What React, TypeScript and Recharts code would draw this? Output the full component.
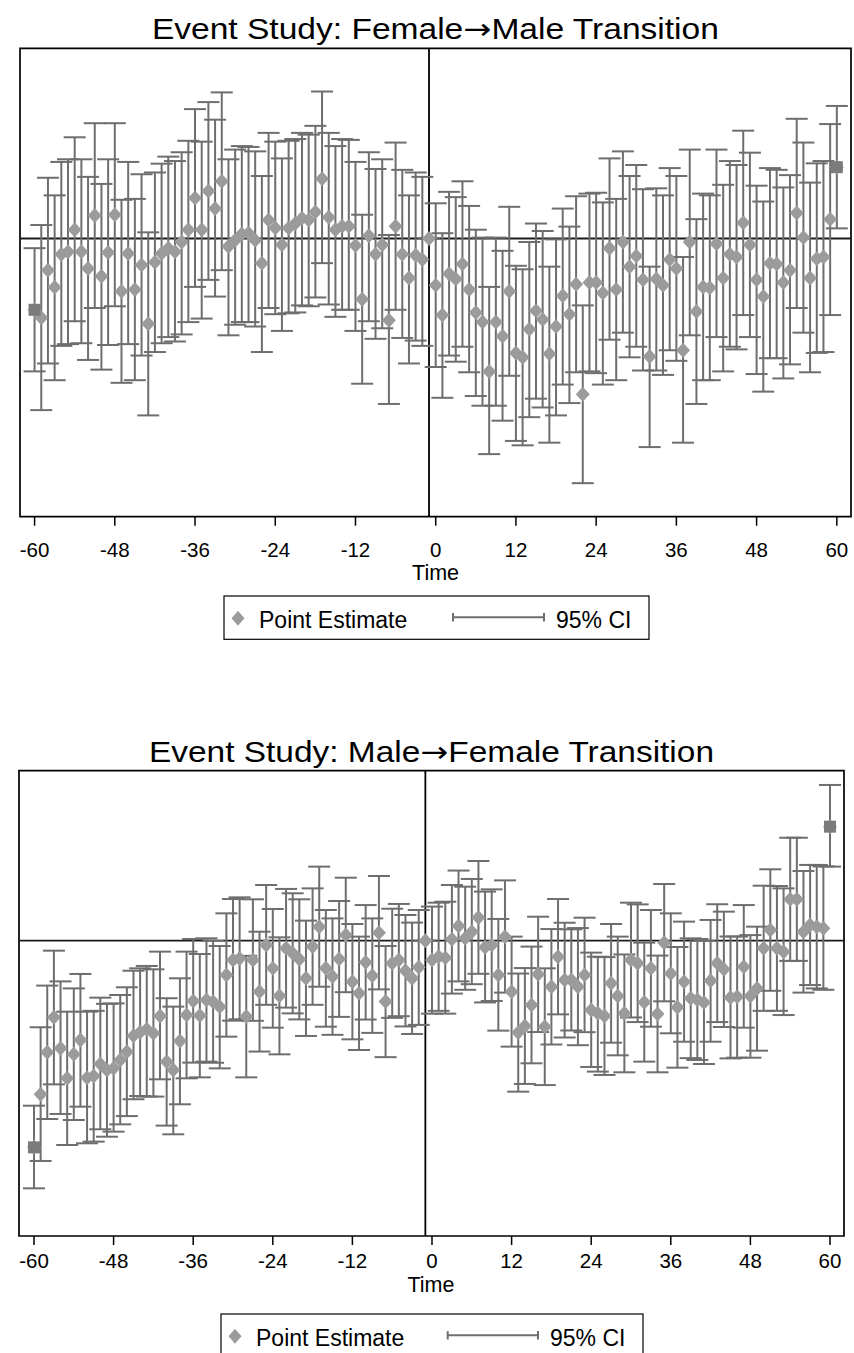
import React from 'react';
import {
  ComposedChart,
  Scatter,
  XAxis,
  YAxis,
  ErrorBar,
  ReferenceLine,
  ReferenceArea,
  Customized,
} from 'recharts';

// ---------- categories / ticks ----------
const periods: number[] = Array.from({ length: 121 }, (_, i) => i - 60);
const xTicks = [-60, -48, -36, -24, -12, 0, 12, 24, 36, 48, 60];
const fmYTicks = [-3, -2, -1, 0, 1, 2];
const mfYTicks = [-2, -1, 0, 1];

// ---------- Female -> Male (t = -60 .. 60) ----------
const fmEst = [
  -0.81, -0.9, -0.36, -0.555, -0.18, -0.15, 0.1, -0.15, -0.34, 0.26,
  -0.43, -0.16, 0.27, -0.6, -0.17, -0.58, -0.3, -0.97, -0.27, -0.17,
  -0.11, -0.15, -0.04, 0.1, 0.46, 0.1, 0.54, 0.34, 0.65, -0.09,
  -0.02, 0.05, 0.06, -0.02, -0.28, 0.21, 0.12, -0.07, 0.12, 0.17,
  0.23, 0.21, 0.3, 0.68, 0.24, 0.1, 0.14, 0.14, -0.08, -0.69,
  0.03, -0.18, -0.07, -0.93, 0.14, -0.18, -0.45, -0.19, -0.24, 0,
  -0.53, -0.87, -0.4, -0.46, -0.29, -0.58, -0.84, -0.95, -1.51, -0.95,
  -1.11, -0.6, -1.3, -1.35, -1.03, -0.82, -0.92, -1.31, -1.0, -0.65,
  -0.86, -0.52, -1.77, -0.5, -0.5, -0.62, -0.11, -0.58, -0.04, -0.32,
  -0.2, -0.47, -1.34, -0.46, -0.53, -0.24, -0.34, -1.27, -0.04, -0.83,
  -0.55, -0.56, -0.06, -0.45, -0.18, -0.21, 0.18, -0.07, -0.47, -0.66,
  -0.28, -0.29, -0.5, -0.36, 0.29, 0.01, -0.45, -0.23, -0.21, 0.22,
  0.81,
];
const fmHi = [
  -0.11, 0.153, 0.69, 0.49, 0.87, 0.9, 1.15, 0.9, 0.7, 1.31,
  0.62, 0.9, 1.31, 0.44, 0.87, 0.45, 0.73, 0.07, 0.75, 0.85,
  0.93, 0.88, 0.98, 1.11, 1.47, 1.1, 1.55, 1.35, 1.66, 0.9,
  1.01, 1.05, 1.04, 0.99, 0.71, 1.2, 1.1, 0.91, 1.11, 1.13,
  1.2, 1.18, 1.28, 1.67, 1.2, 1.05, 1.13, 1.12, 0.87, 0.27,
  0.98, 0.79, 0.9, 0.04, 1.09, 0.78, 0.49, 0.75, 0.7, 0,
  0.4, 0.06, 0.53, 0.47, 0.65, 0.37, 0.1, 0.01, -0.55, 0.01,
  -0.14, 0.36, -0.31, -0.35, -0.04, 0.17, 0.085, -0.32, -0.01, 0.34,
  0.135, 0.48, -0.76, 0.51, 0.52, 0.41, 0.91, 0.45, 0.99, 0.71,
  0.835, 0.56, -0.32, 0.57, 0.49, 0.8, 0.71, -0.21, 1.01, 0.22,
  0.51, 0.49, 1.01, 0.61, 0.88, 0.835, 1.225, 0.975, 0.6, 0.42,
  0.8, 0.78, 0.58, 0.72, 1.36, 1.09, 0.635, 0.854, 0.88, 1.3,
  1.506,
];
const fmLo = [
  -1.51, -1.95, -1.42, -1.61, -1.22, -1.2, -0.94, -1.19, -1.38, -0.79,
  -1.49, -1.21, -0.77, -1.64, -1.2, -1.61, -1.33, -2.01, -1.29, -1.19,
  -1.12, -1.17, -1.09, -0.95, -0.55, -0.91, -0.47, -0.66, -0.36, -1.1,
  -0.98, -0.95, -0.95, -1.0, -1.29, -0.79, -0.86, -1.05, -0.85, -0.84,
  -0.76, -0.77, -0.67, -0.28, -0.75, -0.89, -0.81, -0.81, -1.05, -1.65,
  -0.94, -1.14, -1.02, -1.88, -0.81, -1.13, -1.42, -1.16, -1.22, 0,
  -1.46, -1.81, -1.33, -1.4, -1.23, -1.52, -1.79, -1.9, -2.45, -1.9,
  -2.07, -1.56, -2.3, -2.35, -2.03, -1.82, -1.92, -2.32, -2.01, -1.66,
  -1.87, -1.52, -2.78, -1.51, -1.53, -1.66, -1.15, -1.61, -1.07, -1.35,
  -1.23, -1.5, -2.37, -1.5, -1.55, -1.27, -1.39, -2.32, -1.1, -1.88,
  -1.61, -1.61, -1.12, -1.51, -1.23, -1.26, -0.87, -1.12, -1.54, -1.74,
  -1.36, -1.36, -1.59, -1.43, -0.79, -1.07, -1.52, -1.3, -1.29, -0.87,
  0.115,
];

// ---------- Male -> Female (t = -60 .. 60) ----------
const mfEst = [
  -1.473, -1.095, -0.795, -0.546, -0.767, -0.981, -0.81, -0.708, -0.976, -0.964,
  -0.879, -0.921, -0.909, -0.85, -0.791, -0.677, -0.653, -0.632, -0.66, -0.537,
  -0.862, -0.921, -0.715, -0.53, -0.43, -0.534, -0.423, -0.435, -0.47, -0.244,
  -0.138, -0.126, -0.541, -0.138, -0.363, -0.03, -0.197, -0.392, -0.054, -0.09,
  -0.133, -0.268, -0.042, 0.1, -0.197, -0.256, -0.13, 0.041, -0.292, -0.375,
  -0.154, -0.249, 0.057, -0.434, -0.161, -0.138, -0.214, -0.268, -0.19, 0,
  -0.138, -0.114, -0.121, 0.01, 0.105, 0.017, 0.064, 0.166, -0.047, -0.03,
  -0.244, 0.029, -0.363, -0.655, -0.608, -0.458, -0.24, -0.613, -0.328, -0.114,
  -0.28, -0.28, -0.328, -0.244, -0.494, -0.518, -0.537, -0.304, -0.394, -0.518,
  -0.138, -0.161, -0.438, -0.197, -0.522, -0.014, -0.233, -0.475, -0.292, -0.41,
  -0.42, -0.44, -0.285, -0.161, -0.204, -0.405, -0.4, -0.185, -0.395, -0.34,
  -0.054, 0.076, -0.054, -0.078, 0.295, 0.295, 0.064, 0.112, 0.1, 0.088,
  0.813,
];
const mfHi = [
  -1.176, -0.617, -0.32, -0.071, -0.29, -0.506, -0.34, -0.237, -0.506, -0.5,
  -0.406, -0.45, -0.447, -0.387, -0.332, -0.214, -0.197, -0.18, -0.204, -0.078,
  -0.41, -0.47, -0.268, -0.078, 0.012, -0.095, 0.017, 0.0, -0.038, 0.195,
  0.297, 0.309, -0.108, 0.295, 0.064, 0.397, 0.226, 0.024, 0.369, 0.338,
  0.295, 0.143, 0.373, 0.528, 0.219, 0.159, 0.283, 0.449, 0.119, 0.029,
  0.254, 0.159, 0.461, -0.038, 0.228, 0.262, 0.183, 0.129, 0.219, 0,
  0.243, 0.271, 0.278, 0.397, 0.5, 0.385, 0.44, 0.568, 0.35, 0.366,
  0.155, 0.43, 0.029, -0.234, -0.195, -0.042, 0.171, -0.197, 0.083, 0.297,
  0.128, 0.081, 0.09, 0.164, -0.085, -0.114, -0.117, 0.119, 0.029, -0.098,
  0.271, 0.259, -0.014, 0.219, -0.106, 0.404, 0.195, -0.045, 0.136, 0.017,
  0.012, 0.0, 0.148, 0.26, 0.207, 0.03, 0.03, 0.254, 0.04, 0.1,
  0.392, 0.509, 0.39, 0.373, 0.734, 0.734, 0.497, 0.54, 0.54, 0.53,
  1.11,
];
const mfLo = [
  -1.765, -1.57, -1.271, -1.024, -1.235, -1.456, -1.278, -1.183, -1.444, -1.432,
  -1.344, -1.397, -1.361, -1.309, -1.25, -1.13, -1.107, -1.111, -1.111, -0.988,
  -1.318, -1.38, -1.166, -0.981, -0.869, -0.974, -0.862, -0.87, -0.91, -0.684,
  -0.57, -0.56, -0.974, -0.571, -0.79, -0.457, -0.62, -0.81, -0.477, -0.518,
  -0.561, -0.679, -0.457, -0.328, -0.613, -0.671, -0.543, -0.367, -0.703, -0.779,
  -0.562, -0.657, -0.347, -0.83, -0.55, -0.538, -0.611, -0.665, -0.6, 0,
  -0.52, -0.5, -0.52, -0.377, -0.29, -0.35, -0.31, -0.236, -0.44, -0.43,
  -0.641, -0.37, -0.755, -1.076, -1.021, -0.874, -0.651, -1.029, -0.74, -0.525,
  -0.69, -0.64, -0.745, -0.652, -0.9, -0.933, -0.957, -0.727, -0.817, -0.938,
  -0.547, -0.58, -0.862, -0.613, -0.938, -0.432, -0.66, -0.905, -0.72, -0.837,
  -0.85, -0.879, -0.72, -0.58, -0.615, -0.839, -0.834, -0.62, -0.834, -0.784,
  -0.5, -0.357, -0.5, -0.53, -0.144, -0.144, -0.37, -0.316, -0.34, -0.35,
  0.528,
];

const endpointPeriods = [-60, 60];

const FONT = '"Liberation Sans", Arial, Helvetica, sans-serif';
const ARROW_FONT = '"DejaVu Sans", "Liberation Sans", sans-serif';
const DIAMOND_FILL = '#9b9b9b';
const BAR_COLOR = '#6e6e6e';
const SQUARE_FILL = '#7b7b7b';

type Row = { t: number; est: number; err: [number, number] };

const buildRows = (est: number[], lo: number[], hi: number[]): Row[] =>
  periods.map((t, i) => ({ t, est: est[i], err: [est[i] - lo[i], hi[i] - est[i]] }));

const Diamond = (props: any) => {
  const { cx, cy } = props;
  if (cx == null || cy == null || isNaN(cx) || isNaN(cy)) return <g />;
  const w = 7;
  const h = 7.5;
  return (
    <polygon
      points={`${cx},${cy - h} ${cx + w},${cy} ${cx},${cy + h} ${cx - w},${cy}`}
      fill={DIAMOND_FILL}
    />
  );
};

const Square = (props: any) => {
  const { cx, cy } = props;
  if (cx == null || cy == null || isNaN(cx) || isNaN(cy)) return <g />;
  return <rect x={cx - 6} y={cy - 6} width={12} height={12} fill={SQUARE_FILL} />;
};

type Cfg = {
  titleA: string;
  titleB: string;
  height: number;
  top: number;
  marginTop: number;
  marginBottom: number;
  marginRight: number;
  yWidth: number;
  xDomain: [number, number];
  yDomain: [number, number];
  yTicks: number[];
  tickMargin: number;
  titleX: number;
  titleY: number;
  titleLen: number;
  timeX: number;
  timeY: number;
  legend: { x: number; y: number; w: number; lineX1: number; lineX2: number; ciX: number };
};

const Overlay = ({ cfg }: { cfg: Cfg }) => {
  const L = cfg.legend;
  const dy = L.y + 22.3;
  const ly = L.y + 21.3;
  return (
    <g fontFamily={FONT}>
      <text
        x={cfg.titleX}
        y={cfg.titleY}
        textAnchor="middle"
        fontSize={29}
        fill="#000"
        textLength={cfg.titleLen}
        lengthAdjust="spacingAndGlyphs"
      >
        {cfg.titleA}
        <tspan fontFamily={ARROW_FONT}>{'\u2192'}</tspan>
        {cfg.titleB}
      </text>
      <text x={cfg.timeX} y={cfg.timeY} textAnchor="middle" fontSize={21.5} fill="#000">
        Time
      </text>
      <rect x={L.x} y={L.y} width={L.w} height={43.3} fill="#fff" stroke="#000" strokeWidth={1.2} />
      <polygon
        points={`${L.x + 14},${dy - 7.5} ${L.x + 20.5},${dy} ${L.x + 14},${dy + 7.5} ${L.x + 7.5},${dy}`}
        fill={DIAMOND_FILL}
      />
      <text x={L.x + 35} y={L.y + 32.3} fontSize={23} fill="#000">
        Point Estimate
      </text>
      <line x1={L.lineX1} x2={L.lineX2} y1={ly} y2={ly} stroke={BAR_COLOR} strokeWidth={2} />
      <line x1={L.lineX1} x2={L.lineX1} y1={ly - 4.2} y2={ly + 4.2} stroke={BAR_COLOR} strokeWidth={2} />
      <line x1={L.lineX2} x2={L.lineX2} y1={ly - 4.2} y2={ly + 4.2} stroke={BAR_COLOR} strokeWidth={2} />
      <text x={L.ciX} y={L.y + 32.3} fontSize={23} fill="#000">
        95% CI
      </text>
    </g>
  );
};

const EventChart = ({ cfg, rows }: { cfg: Cfg; rows: Row[] }) => {
  const ends = rows.filter((r) => endpointPeriods.includes(r.t));
  return (
    <div style={{ position: 'absolute', left: 0, top: cfg.top, width: 854, height: cfg.height }}>
      <ComposedChart
        width={854}
        height={cfg.height}
        margin={{ top: cfg.marginTop, right: cfg.marginRight, bottom: cfg.marginBottom, left: 0 }}
      >
        <XAxis
          dataKey="t"
          type="number"
          domain={cfg.xDomain}
          ticks={xTicks}
          interval={0}
          allowDataOverflow
          axisLine={false}
          tickSize={9}
          tickLine={{ stroke: '#000', strokeWidth: 1.5 }}
          tick={{ fontSize: 20.5, fill: '#000', fontFamily: FONT }}
          tickMargin={cfg.tickMargin}
          height={40}
        />
        <YAxis
          type="number"
          domain={cfg.yDomain}
          ticks={cfg.yTicks}
          interval={0}
          allowDataOverflow
          axisLine={false}
          tickSize={9}
          tickLine={{ stroke: '#000', strokeWidth: 1.5 }}
          tick={false}
          width={cfg.yWidth}
        />
        <ReferenceLine y={0} stroke="#1a1a1a" strokeWidth={1.8} />
        <ReferenceLine x={-1} stroke="#000" strokeWidth={1.8} />
        <Scatter data={rows} dataKey="est" shape={Diamond} isAnimationActive={false}>
          <ErrorBar
            dataKey="err"
            direction="y"
            width={11}
            stroke={BAR_COLOR}
            strokeWidth={2}
            isAnimationActive={false}
          />
        </Scatter>
        <Scatter data={ends} dataKey="est" shape={Square} isAnimationActive={false} />
        <ReferenceArea
          x1={cfg.xDomain[0]}
          x2={cfg.xDomain[1]}
          y1={cfg.yDomain[0]}
          y2={cfg.yDomain[1]}
          fill="none"
          fillOpacity={0}
          stroke="#000"
          strokeWidth={1.7}
          ifOverflow="visible"
        />
        <Customized component={<Overlay cfg={cfg} />} />
      </ComposedChart>
    </div>
  );
};

const fmCfg: Cfg = {
  titleA: 'Event Study: Female',
  titleB: 'Male Transition',
  height: 700,
  top: 0,
  marginTop: 48.3,
  marginBottom: 143.3,
  marginRight: 3,
  yWidth: 20,
  xDomain: [-62.18, 62.12],
  yDomain: [-3.161, 2.161],
  yTicks: fmYTicks,
  tickMargin: 17.0,
  titleX: 435.4,
  titleY: 39,
  titleLen: 567,
  timeX: 435.6,
  timeY: 580,
  legend: { x: 224, y: 596, w: 425, lineX1: 453, lineX2: 544, ciX: 556 },
};

const mfCfg: Cfg = {
  titleA: 'Event Study: Male',
  titleB: 'Female Transition',
  height: 653,
  top: 700,
  marginTop: 70.7,
  marginBottom: 77,
  marginRight: 10,
  yWidth: 19,
  xDomain: [-62.26, 62.11],
  yDomain: [-2.1048, 1.2117],
  yTicks: mfYTicks,
  tickMargin: 8.9,
  titleX: 431.5,
  titleY: 61.7,
  titleLen: 565,
  timeX: 431,
  timeY: 591.5,
  legend: { x: 221, y: 614, w: 422, lineX1: 447.7, lineX2: 538, ciX: 550 },
};

const fmRows = buildRows(fmEst, fmLo, fmHi);
const mfRows = buildRows(mfEst, mfLo, mfHi);

export default function App() {
  return (
    <div
      style={{
        position: 'absolute',
        left: 0,
        top: 0,
        width: 854,
        height: 1353,
        background: '#fff',
        overflow: 'hidden',
        fontFamily: FONT,
      }}
    >
      <EventChart cfg={fmCfg} rows={fmRows} />
      <EventChart cfg={mfCfg} rows={mfRows} />
    </div>
  );
}
